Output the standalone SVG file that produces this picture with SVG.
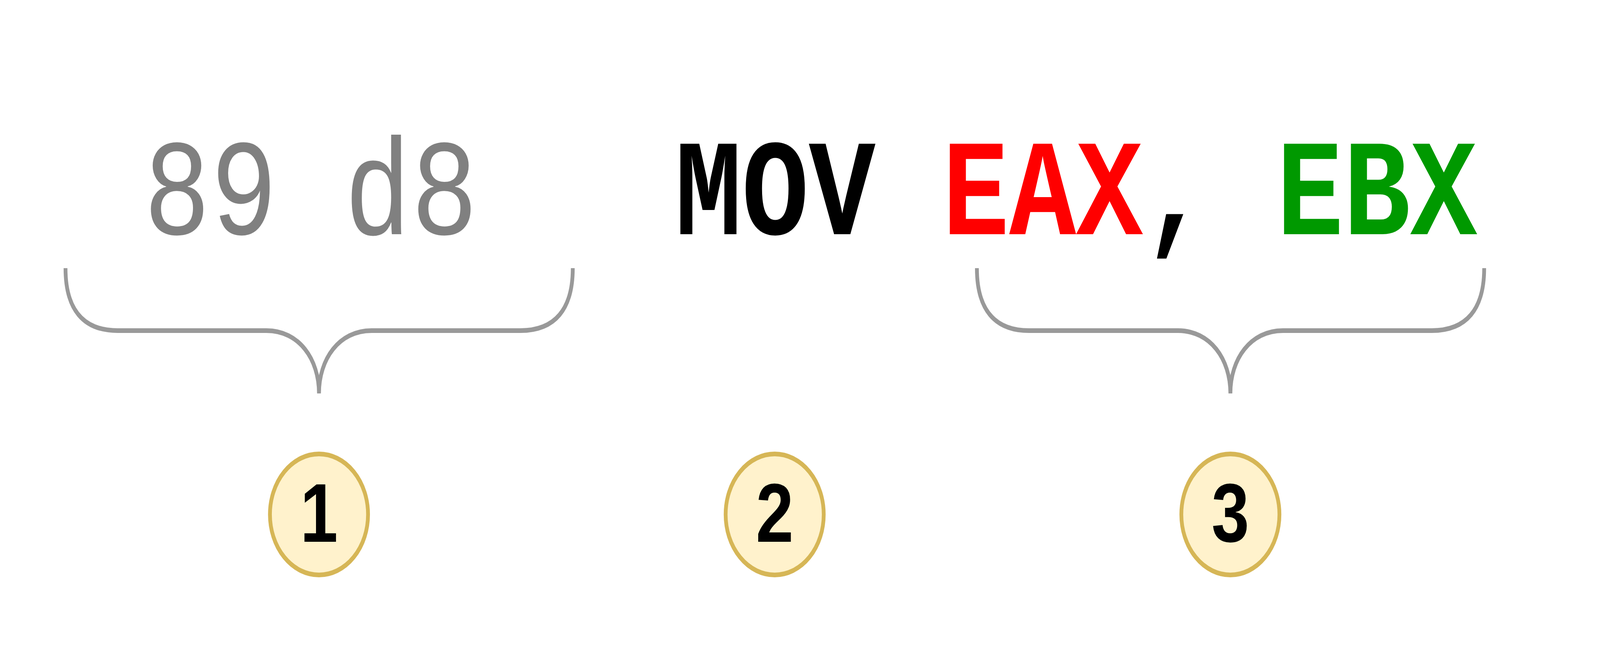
<svg xmlns="http://www.w3.org/2000/svg" width="5056" height="1696" viewBox="0 0 5056 1696" preserveAspectRatio="none" style="width:100vw;height:100vh;display:block">
<defs>
<style>
.mono{font-family:"Liberation Mono","DejaVu Sans Mono",monospace;font-size:352px}
.brace{fill:none;stroke:#999999;stroke-width:12}
.badge{fill:#fff2cc;stroke:#d6b656;stroke-width:12}
.num{font-family:"Liberation Sans",Arial,sans-serif;font-weight:bold;font-size:214px;fill:#000000;text-anchor:middle}
</style>
<path id="bracePath" class="brace" d="M207,687 C207,792 262,847 372,847 L842,847 C945,847 1008,920 1008,1008 C1008,920 1071,847 1174,847 L1644,847 C1754,847 1810,792 1810,687"/>
</defs>
<rect width="5056" height="1696" fill="#ffffff"/>
<g id="bytes">
<text class="mono" x="454" y="600" fill="#808080">89 d8</text>
</g>
<g id="instruction">
<text class="mono" x="2133" y="600" font-weight="bold" xml:space="preserve"><tspan fill="#000000">MOV </tspan><tspan fill="#ff0000">EAX</tspan><tspan fill="#000000">, </tspan><tspan fill="#009900">EBX</tspan></text>
</g>
<g id="connectors">
<use href="#bracePath"/>
<use href="#bracePath" transform="translate(2880,0)"/>
</g>
<g id="badge1">
<circle class="badge" cx="1008" cy="1318" r="155"/>
<text class="num" x="1008" y="1388">1</text>
</g>
<g id="badge2">
<circle class="badge" cx="2448" cy="1318" r="155"/>
<text class="num" x="2448" y="1388">2</text>
</g>
<g id="badge3">
<circle class="badge" cx="3888" cy="1318" r="155"/>
<text class="num" x="3888" y="1388">3</text>
</g>
</svg>
